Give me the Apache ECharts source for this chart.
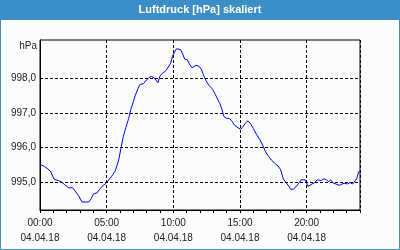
<!DOCTYPE html>
<html>
<head>
<meta charset="utf-8">
<script src="https://cdn.jsdelivr.net/npm/echarts@6/dist/echarts.min.js"></script>
<style>
html,body{margin:0;padding:0;background:#fbfdfb;}
#c{width:400px;height:250px;}
</style>
</head>
<body>
<div id="c"></div>
<script>
// Time in hours since 04.04.18 00:00
const hours = [0,0.35,0.6,0.8,1.05,1.35,1.6,1.85,2.15,2.3,2.45,2.65,2.9,3.15,3.65,3.85,4.0,4.3,4.5,4.75,4.95,5.1,5.35,5.65,5.9,6.1,6.25,6.45,6.65,6.8,7.0,7.15,7.35,7.5,7.75,7.9,8.15,8.35,8.55,8.7,8.85,9.0,9.2,9.45,9.6,9.8,9.95,10.1,10.25,10.35,10.55,10.7,10.85,11.05,11.2,11.4,11.5,11.7,11.9,12.1,12.25,12.45,12.65,12.8,12.95,13.15,13.35,13.5,13.65,13.8,14.0,14.2,14.4,14.6,14.85,15.05,15.2,15.4,15.6,15.8,16.0,16.25,16.5,16.7,16.9,17.15,17.35,17.6,17.85,18.05,18.25,18.45,18.65,18.8,19.0,19.2,19.4,19.6,19.75,19.9,20.1,20.25,20.4,20.6,20.8,20.95,21.1,21.3,21.5,21.65,21.8,22.0,22.2,22.45,22.65,22.85,23.05,23.25,23.45,23.6,23.75,23.9,24.0];
const pressure = [995.52,995.45,995.38,995.31,995.09,995.05,995.01,994.93,994.84,994.80,994.84,994.74,994.61,994.43,994.43,994.53,994.66,994.70,994.82,994.91,994.97,994.99,995.16,995.33,995.64,996.03,996.32,996.59,996.84,997.09,997.32,997.51,997.70,997.82,997.84,997.87,998.01,998.05,998.01,997.97,997.87,998.07,998.14,998.22,998.26,998.43,998.65,998.76,998.85,998.87,998.82,998.70,998.55,998.53,998.41,998.30,998.30,998.37,998.35,998.26,998.10,997.93,997.80,997.82,997.68,997.53,997.37,997.26,997.09,996.89,996.84,996.84,996.76,996.64,996.57,996.53,996.59,996.70,996.77,996.68,996.55,996.37,996.22,996.07,995.89,995.74,995.64,995.55,995.47,995.36,995.09,994.99,994.89,994.80,994.80,994.87,994.97,995.07,995.12,995.07,994.88,994.91,994.95,994.99,995.07,995.10,995.05,995.10,995.07,995.01,995.07,994.97,994.95,994.91,994.95,994.97,994.95,994.99,994.95,994.97,995.10,995.30,995.32];
const yGridValues = [995, 996, 997, 998];
const xLabelHours = [0, 5, 10, 15, 20];
const dateLabel = '04.04.18';
const title = 'Luftdruck [hPa] skaliert';
const unit = 'hPa';
const yMin = 994.2, yMax = 999.1;
const xMin = 0, xMax = 24;

const blue = '#3c8fc6';
const font = 'Liberation Sans, Arial, sans-serif';
const chart = echarts.init(document.getElementById('c'), null, {renderer: 'canvas'});
const pad = n => (n < 10 ? '0' : '') + n;
chart.setOption({
  animation: false,
  backgroundColor: '#fbfdfb',
  grid: {left: 40, right: 40, top: 40, bottom: 40, show: true, borderColor: '#000', borderWidth: 1, backgroundColor: 'transparent'},
  xAxis: [{
    type: 'value', min: xMin, max: xMax, interval: 1,
    axisLine: {show: true, lineStyle: {color: '#000', width: 1}},
    axisTick: {show: true, length: 3, lineStyle: {color: '#000'}},
    splitLine: {show: false},
    axisLabel: {
      margin: 6, color: '#222', fontFamily: font, fontSize: 10, lineHeight: 15,
      formatter: v => xLabelHours.indexOf(v) >= 0 ? pad(v) + ':00\n' + dateLabel : ''
    }
  }, {
    type: 'value', min: xMin, max: xMax, interval: 5, position: 'bottom',
    axisLine: {show: false}, axisTick: {show: false}, axisLabel: {show: false},
    splitLine: {show: true, lineStyle: {color: '#000', width: 1, type: [3, 2]}}
  }],
  yAxis: {
    type: 'value', min: yMin, max: yMax,
    axisLine: {show: true, lineStyle: {color: '#000', width: 1}},
    axisTick: {show: false},
    splitLine: {show: false},
    axisLabel: {
      margin: 4, color: '#222', fontFamily: font, fontSize: 10,
      formatter: v => yGridValues.indexOf(Math.round(v * 100) / 100) >= 0 ? v.toFixed(1).replace('.', ',') : ''
    }
  },
  series: [{
    type: 'line', xAxisIndex: 0,
    data: hours.map((h, i) => [h, pressure[i]]),
    showSymbol: false, symbol: 'none',
    lineStyle: {color: '#0000ff', width: 1},
    markLine: {
      silent: true, symbol: 'none', label: {show: false},
      lineStyle: {color: '#000', width: 1, type: [3, 2]},
      data: yGridValues.map(v => ({yAxis: v}))
    }
  }],
  graphic: [
    {type: 'rect', shape: {x: 0, y: 0, width: 400, height: 20}, style: {fill: blue}, z: 10},
    {type: 'rect', shape: {x: 0.5, y: 0.5, width: 399, height: 249}, style: {fill: 'none', stroke: blue, lineWidth: 1}, z: 10},
    {type: 'text', z: 11, style: {text: title, x: 200, y: 10, align: 'center', verticalAlign: 'middle', fill: '#fff', font: 'bold 11px ' + font}},
    {type: 'text', z: 11, style: {text: unit, x: 37, y: 46, align: 'right', verticalAlign: 'middle', fill: '#222', font: '10px ' + font}}
  ]
});
</script>
</body>
</html>
